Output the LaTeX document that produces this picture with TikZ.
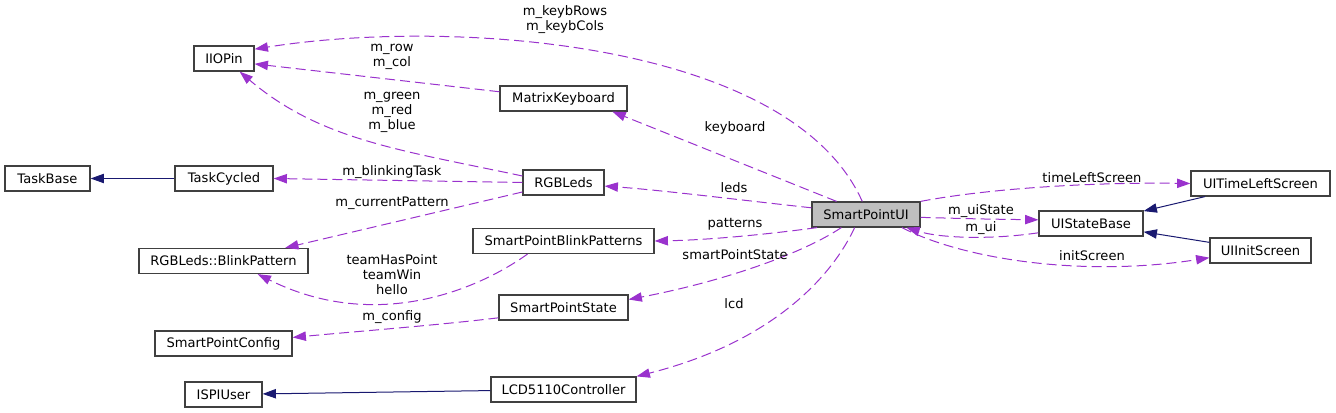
\documentclass[tikz,border=0pt]{standalone}
\usepackage{fontspec}
\setmainfont{DejaVu Sans}
\usetikzlibrary{arrows.meta}
\definecolor{edgepurple}{HTML}{9A32CD}
\definecolor{edgenavy}{HTML}{191970}
\definecolor{boxline}{HTML}{404040}
\definecolor{boxgray}{HTML}{BFBFBF}

\begin{document}
\begin{tikzpicture}[x=0.75pt, y=-0.75pt,
    cls/.style={draw=boxline, line width=0.9pt, fill=white, inner sep=0pt, minimum height=18.75pt, font=\fontsize{9.8}{11.25}\selectfont},
    lbl/.style={inner sep=0pt, align=center, font=\fontsize{9.8}{11.25}\selectfont},
    uses/.style={draw=edgepurple, line width=0.75pt, dash pattern=on 7.5pt off 3.75pt, -{Triangle[length=10pt, width=7pt]}},
    inherits/.style={draw=edgenavy, line width=0.75pt, -{Triangle[length=10pt, width=7pt]}}]
    \useasboundingbox (0,0) rectangle (1336,413);

    % left column
    \node[cls, minimum width=45pt] (iiopin) at (224,58.5) {IIOPin};
    \node[cls, minimum width=63.75pt] (taskb) at (47.5,178.5) {TaskBase};
    \node[cls, minimum width=73.5pt] (taskc) at (224,178.5) {TaskCycled};
    \node[cls, minimum width=126.75pt] (bp) at (223.5,261) {RGBLeds::BlinkPattern};
    \node[cls, minimum width=102.75pt] (spc) at (223.5,343.5) {SmartPointConfig};
    \node[cls, minimum width=57.75pt] (ispi) at (223.5,394.5) {ISPIUser};

    % middle column
    \node[cls, minimum width=95.25pt] (mkb) at (563.5,98.5) {MatrixKeyboard};
    \node[cls, minimum width=60.75pt] (rgb) at (563.5,182.5) {RGBLeds};
    \node[cls, minimum width=135.75pt] (spbp) at (563.5,241) {SmartPointBlinkPatterns};
    \node[cls, minimum width=96.75pt] (sps) at (563.5,307.5) {SmartPointState};
    \node[cls, minimum width=108.75pt] (lcd) at (563.5,389.5) {LCD5110Controller};

    % right part
    \node[cls, fill=boxgray, minimum width=81pt] (smui) at (866,214.5) {SmartPointUI};
    \node[cls, minimum width=78pt] (uisb) at (1091,223.5) {UIStateBase};
    \node[cls, minimum width=104.25pt] (tls) at (1260.5,183.5) {UITimeLeftScreen};
    \node[cls, minimum width=75.75pt] (uiis) at (1260.5,250.5) {UIInitScreen};

    % inheritance
    \draw[inherits] (taskc) -- (taskb);
    \draw[inherits] (lcd) -- (ispi);
    \draw[inherits] (tls) -- (uisb);
    \draw[inherits] (uiis) -- (uisb);

    % members
    \draw[uses] (smui.106) .. controls (790,40) and (450,18) .. (iiopin.17);
    \draw[uses] (mkb.174) -- (iiopin.-10);
    \draw[uses] (rgb.171) .. controls (400,150) and (320,140) .. (iiopin.-40);
    \draw[uses] (rgb.west) -- (taskc.east);
    \draw[uses] (rgb.193) -- (bp.12);
    \draw[uses] (spbp.200) .. controls (470,295) and (370,330) .. (bp.-21);
    \draw[uses] (sps.189) .. controls (440,325) and (350,332) .. (spc.5);
    \draw[uses] (smui.156) -- (mkb.-15);
    \draw[uses] (smui.173) .. controls (740,200) and (660,190) .. (rgb.-5);
    \draw[uses] (smui.195) .. controls (770,234) and (710,240) .. (spbp.east);
    \draw[uses] (smui.208) .. controls (800,255) and (720,282) .. (sps.7);
    \draw[uses] (smui.229) .. controls (835,270) and (780,340) .. (lcd.north east);
    \draw[uses] (smui.north east) .. controls (980,190) and (1080,182) .. (tls.west);
    \draw[uses] (smui.-3) .. controls (980,219) .. (uisb.176);
    \draw[uses] (uisb.190) .. controls (990,240) and (940,238) .. (smui.-18);
    \draw[uses] (smui.-20) .. controls (960,258) and (1080,278) .. (uiis.188);

    % labels
    \node[lbl] (lkeybrc) at (565,19.5) {m\_keybRows\\m\_keybCols};
    \node[lbl] (lrowcol) at (392,56.5) {m\_row\\m\_col};
    \node[lbl] (lcolors) at (392,112.5) {m\_green\\m\_red\\m\_blue};
    \node[lbl] (lblink) at (392,172.5) {m\_blinkingTask};
    \node[lbl] (lcurpat) at (392,203) {m\_currentPattern};
    \node[lbl] (lteam) at (392,274.5) {teamHasPoint\\teamWin\\hello};
    \node[lbl] (lconfig) at (392,317) {m\_config};
    \node[lbl] (lkeyb) at (735,127.5) {keyboard};
    \node[lbl] (lleds) at (734,187.5) {leds};
    \node[lbl] (lpatterns) at (735,224.5) {patterns};
    \node[lbl] (lspstate) at (735,254.5) {smartPointState};
    \node[lbl] (llcd) at (734,303.5) {lcd};
    \node[lbl] (ltimeleft) at (1092,177.5) {timeLeftScreen};
    \node[lbl] (luistate) at (981,211.5) {m\_uiState};
    \node[lbl] (lui) at (981,228.5) {m\_ui};
    \node[lbl] (linit) at (1092,255.5) {initScreen};
\end{tikzpicture}
\end{document}
